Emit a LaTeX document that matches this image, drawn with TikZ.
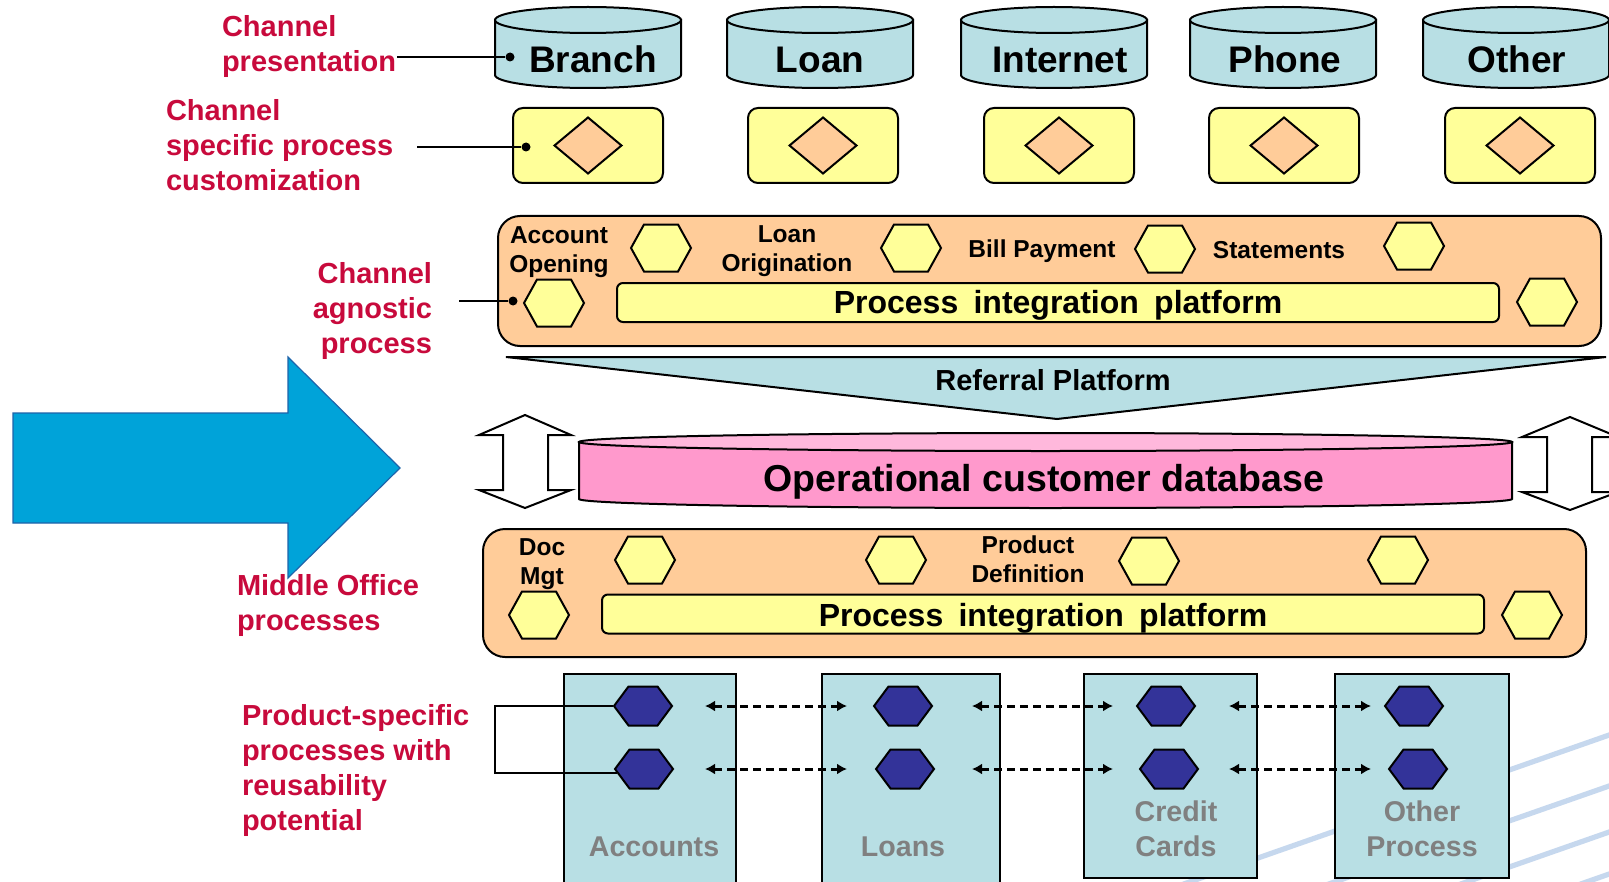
\documentclass[tikz,border=0pt]{standalone}
\usepackage{fontspec}
\setmainfont{Liberation Sans}
\usetikzlibrary{arrows.meta,calc}

\definecolor{redlab}{RGB}{200,10,60}
\definecolor{cylblue}{RGB}{184,223,228}
\definecolor{paleyellow}{RGB}{255,255,153}
\definecolor{peach}{RGB}{255,204,153}
\definecolor{rose}{RGB}{255,153,204}
\definecolor{roselight}{RGB}{255,184,220}
\definecolor{navyhex}{RGB}{51,51,153}
\definecolor{bigblue}{RGB}{0,163,217}
\definecolor{bigblueedge}{RGB}{30,100,170}
\definecolor{stripe}{RGB}{198,216,238}
\definecolor{greytext}{RGB}{128,128,128}

% hexagon with pointed left/right ends: name, x, y, half width, half height, half top side, style
\newcommand{\hexcell}[7]{%
  \node[inner sep=0pt, minimum width=#4pt, minimum height=#5pt] (#1) at (#2,#3) {};
  \draw[#7] ({#2-#4},#3) -- ({#2-#6},{#3-#5}) -- ({#2+#6},{#3-#5}) -- ({#2+#4},#3)
    -- ({#2+#6},{#3+#5}) -- ({#2-#6},{#3+#5}) -- cycle;
}
% upright drum: x centre, top rim y, bottom rim y, half width, rim radius, body colour, top colour
\newcommand{\drumshape}[7]{%
  \filldraw[fill=#6] ({#1-#4},#2) -- ({#1-#4},#3)
    arc[start angle=180, end angle=0, x radius=#4, y radius=#5] -- ({#1+#4},#2) -- cycle;
  \filldraw[fill=#7] (#1,#2) ellipse[x radius=#4, y radius=#5];
}

\tikzset{
  redlbl/.style={text=redlab, font=\fontsize{14.5}{17.5}\selectfont\bfseries, inner sep=0pt},
  chan/.style={font=\fontsize{18.5}{22}\selectfont\bfseries, inner sep=0pt},
  smalltxt/.style={font=\fontsize{12.25}{14.5}\selectfont\bfseries, align=center, inner sep=0pt},
  ybox/.style={draw, fill=paleyellow, rounded corners=5pt, minimum width=75pt, minimum height=37.5pt, inner sep=0pt},
  obox/.style={draw, fill=peach, rounded corners=11pt, inner sep=0pt, minimum width=551.5pt},
  pipbar/.style={draw, fill=paleyellow, rounded corners=3pt, minimum width=441pt, minimum height=19.5pt,
    inner sep=0pt, font=\fontsize{16}{19}\selectfont\bfseries},
  prodcol/.style={draw, fill=cylblue, inner sep=0pt},
  prodlbl/.style={text=greytext, font=\fontsize{14.3}{17.5}\selectfont\bfseries, align=center, inner sep=0pt},
  blackdot/.style={circle, fill=black, inner sep=0pt, minimum size=4.5pt},
  yhex/.style={draw, fill=paleyellow},
  nhex/.style={draw, fill=navyhex},
  diam/.style={draw, fill=peach},
  dasharrow/.style={line width=1.5pt, dash pattern=on 4pt off 2.5pt,
    {Latex[length=5pt,width=5.5pt]}-{Latex[length=5pt,width=5.5pt]}},
  leader/.style={line width=1pt},
  hollowarrow/.style={draw, fill=white},
}

\begin{document}
\begin{tikzpicture}[x=0.5pt, y=-0.5pt, line width=1pt]
\path[use as bounding box, fill=white] (0,0) rectangle (1609,882);
\clip (0,0) rectangle (1609,882);

% faint background stripes
\begin{scope}[draw=stripe, line width=2.6pt]
  \draw (1640,724.2) -- (1158,893);
  \draw (1640,775.2) -- (1303,893);
  \draw (1640,821.2) -- (1435,893);
  \draw (1640,863.2) -- (1555,893);
\end{scope}

% channel drums
\foreach \cx/\tx/\nm/\lab in {588/593/cBranch/Branch, 820/820/cLoan/Loan, 1054/1060/cNet/Internet, 1283/1285/cPhone/Phone, 1516/1517/cOther/Other} {
  \drumshape{\cx}{20}{75}{93}{13}{cylblue}{cylblue}
  \node[chan] (\nm) at (\tx,59.5) {\lab};
}

% channel specific boxes with decision diamonds
\foreach \bx [count=\i] in {588,823,1059,1284,1520} {
  \node[ybox] (yb\i) at (\bx,145.5) {};
  \draw[diam] ({\bx-33.5},145.5) -- (\bx,117.5) -- ({\bx+33.5},145.5) -- (\bx,173.5) -- cycle;
}

% channel agnostic process layer
\node[obox, minimum height=65pt] (agnostic) at (1049.5,281) {};
\node[smalltxt] (accopen) at (559,252) {Account\\Opening};
\node[smalltxt] (loanorig) at (787,251) {Loan\\Origination};
\node[smalltxt] (billpay) at (1042,251) {Bill Payment};
\node[smalltxt] (statements) at (1279,250) {Statements};
\hexcell{hA1}{661}{248}{30}{23.5}{17}{yhex}
\hexcell{hA2}{911}{248}{30}{23.5}{17}{yhex}
\hexcell{hA3}{1165}{249}{30}{23.5}{17}{yhex}
\hexcell{hA4}{1414}{246}{30}{23.5}{17}{yhex}
\hexcell{hA5}{554}{303}{30}{23.5}{17}{yhex}
\hexcell{hA6}{1547}{302}{30}{23.5}{17}{yhex}
\node[pipbar] (pip1) at (1058,302.5) {};
\node[font=\fontsize{16}{19}\selectfont\bfseries, inner sep=0pt] (pip1txt) at (1058,305.5)
  {Process\hspace{0.2em} integration\hspace{0.2em} platform};

% referral platform wedge
\filldraw[fill=cylblue] (506,357) -- (1606,357) -- (1057,419) -- cycle;
\node[font=\fontsize{14.5}{17}\selectfont\bfseries, inner sep=0pt] (referral) at (1053,380) {Referral Platform};

% operational customer database
\drumshape{1045.5}{442}{499}{466.5}{9}{rose}{roselight}
\node[font=\fontsize{18.75}{22}\selectfont\bfseries, inner sep=0pt] (opdb) at (1044,482) {Operational customer database};

% two-way hollow arrows beside the database
\path[hollowarrow] (525,415) -- (571,435) -- (548,435) -- (548,490) -- (571,490) -- (525,508)
  -- (479,490) -- (503,490) -- (503,435) -- (479,435) -- cycle;
\path[hollowarrow] (1570,417) -- (1618,437) -- (1592,437) -- (1592,492) -- (1618,492) -- (1570,510)
  -- (1522,492) -- (1547,492) -- (1547,437) -- (1522,437) -- cycle;

% middle office layer
\node[obox, minimum height=64pt] (middle) at (1034.5,593) {};
\node[smalltxt] (docmgt) at (542,564) {Doc\\Mgt};
\node[smalltxt] (proddef) at (1028,559.5) {Product\\Definition};
\hexcell{hM1}{645}{560}{30}{23.5}{17}{yhex}
\hexcell{hM2}{896}{560}{30}{23.5}{17}{yhex}
\hexcell{hM3}{1149}{561}{30}{23.5}{17}{yhex}
\hexcell{hM4}{1398}{560}{30}{23.5}{17}{yhex}
\hexcell{hM5}{539}{615}{30}{23.5}{17}{yhex}
\hexcell{hM6}{1532}{615}{30}{23.5}{17}{yhex}
\node[pipbar] (pip2) at (1043,614) {};
\node[font=\fontsize{16}{19}\selectfont\bfseries, inner sep=0pt] (pip2txt) at (1043,618)
  {Process\hspace{0.2em} integration\hspace{0.2em} platform};

% product columns
\node[prodcol, minimum width=86pt, minimum height=113pt] (colAcc) at (650,787) {};
\node[prodcol, minimum width=89pt, minimum height=113pt] (colLoan) at (911,787) {};
\node[prodcol, minimum width=86.5pt, minimum height=102pt] (colCard) at (1170.5,776) {};
\node[prodcol, minimum width=87pt, minimum height=102pt] (colOther) at (1422,776) {};
\node[prodlbl] (txtAcc) at (654,847) {Accounts};
\node[prodlbl] (txtLoan) at (903,847) {Loans};
\node[prodlbl] (txtCard) at (1176,829) {Credit\\Cards};
\node[prodlbl] (txtOther) at (1422,829) {Other\\Process};

\hexcell{h11}{643}{706}{29}{19.5}{14.5}{nhex}
\hexcell{h12}{903}{706}{29}{19.5}{14.5}{nhex}
\hexcell{h13}{1166}{706}{29}{19.5}{14.5}{nhex}
\hexcell{h14}{1414}{706}{29}{19.5}{14.5}{nhex}
\hexcell{h21}{644}{769}{29}{19.5}{14.5}{nhex}
\hexcell{h22}{905}{769}{29}{19.5}{14.5}{nhex}
\hexcell{h23}{1169}{769}{29}{19.5}{14.5}{nhex}
\hexcell{h24}{1418}{769}{29}{19.5}{14.5}{nhex}

\draw[dasharrow] ([xshift=16pt]h11.east) -- ([xshift=-13pt]h12.west);
\draw[dasharrow] ([xshift=19.5pt]h12.east) -- ([xshift=-11.5pt]h13.west);
\draw[dasharrow] ([xshift=16.5pt]h13.east) -- ([xshift=-6.5pt]h14.west);
\draw[dasharrow] ([xshift=15.5pt]h21.east) -- ([xshift=-14pt]h22.west);
\draw[dasharrow] ([xshift=18.5pt]h22.east) -- ([xshift=-13pt]h23.west);
\draw[dasharrow] ([xshift=15pt]h23.east) -- ([xshift=-8.5pt]h24.west);

% red captions and their leaders
\node[redlbl, align=left, anchor=west] (lblPres) at (221,47) {Channel\\presentation};
\node[redlbl, align=left, anchor=west] (lblSpec) at (165,145) {Channel\\specific process\\customization};
\node[redlbl, align=right, anchor=east] (lblAgn) at (433,311) {Channel\\agnostic\\process};
\node[redlbl, align=left, anchor=west] (lblMid) at (236,605) {Middle Office\\processes};
\node[redlbl, align=left, anchor=west] (lblProd) at (241,770) {Product-specific\\processes with\\reusability\\potential};

\node[blackdot] (dotPres) at (510,57) {};
\node[blackdot] (dotSpec) at (526,147) {};
\node[blackdot] (dotAgn) at (513,301) {};
\draw[leader] (lblPres.east |- dotPres) -- (dotPres);
\draw[leader] ($(lblSpec.east |- dotSpec)+(23,0)$) -- (dotSpec);
\draw[leader] ($(lblAgn.east |- dotAgn)+(26,0)$) -- (dotAgn);
\draw[leader] (h11.west) -- ++(-118,0) |- ($(h21.west)+(3,4)$);

% big transition arrow
\filldraw[fill=bigblue, draw=bigblueedge, line width=0.6pt] (13,413) -- (288,413) -- (288,357) -- (400,468)
  -- (288,578) -- (288,523) -- (13,523) -- cycle;
\end{tikzpicture}
\end{document}
